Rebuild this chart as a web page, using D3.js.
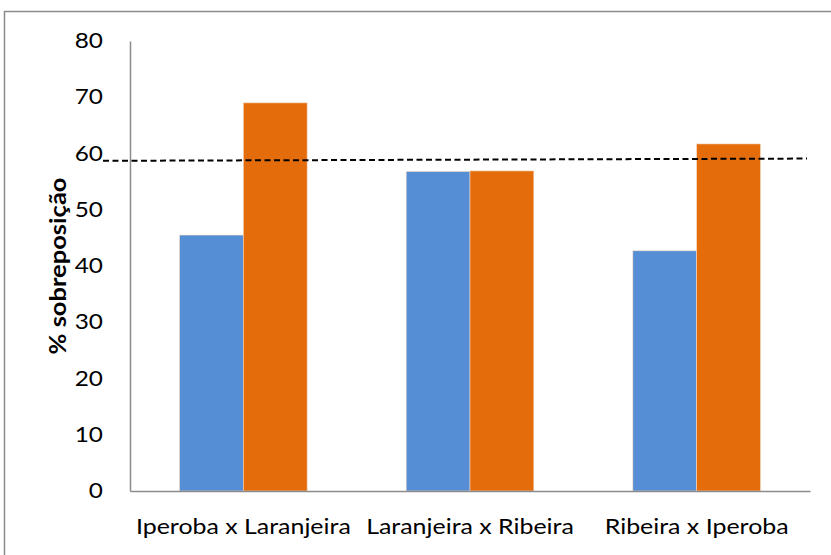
<!DOCTYPE html>
<html>
<head>
<meta charset="utf-8">
<script src="https://cdn.jsdelivr.net/npm/d3@7"></script>
<style>
  html, body { margin: 0; padding: 0; background: #fff; }
  svg { display: block; }
  text { font-family: Lato, "Open Sans", sans-serif; fill: #000; }
</style>
</head>
<body>
<svg id="chart" width="831" height="555"></svg>
<script>
// Pairwise overlap between sites (% sobreposição)
const categories = ["Iperoba x Laranjeira", "Laranjeira x Ribeira", "Ribeira x Iperoba"];
const seriesA = [45.5, 56.8, 42.7];   // blue bars
const seriesB = [69.0, 56.9, 61.7];   // orange bars
const yTicks = [0, 10, 20, 30, 40, 50, 60, 70, 80];
const thresholdLine = [58.7, 59.1];   // dashed reference, left and right end
const yTitle = "% sobreposição";

const svg = d3.select("#chart");
const W = 831, H = 555;
const m = { left: 130, right: 21, top: 41, bottom: 64 };
const stretch = 1.16;   // wide lettering

// Outer chart frame
svg.append("rect")
  .attr("x", 4.5).attr("y", 11.5)
  .attr("width", W + 10).attr("height", H + 10)
  .attr("fill", "none").attr("stroke", "#8c8c8c").attr("stroke-width", 1.5);

const x = d3.scaleBand().domain(categories)
  .range([m.left, W - m.right])
  .paddingInner(0.437).paddingOuter(0.2185);

const x2 = d3.scaleBand().domain(["A", "B"]).range([0, x.bandwidth()]);

const y = d3.scaleLinear().domain([0, 80]).range([H - m.bottom, m.top]);

const colors = { A: "#558ed5", B: "#e46c0a" };

// Bars
const groups = svg.append("g").selectAll("g")
  .data(categories.map((c, i) => ({ c, A: seriesA[i], B: seriesB[i] })))
  .join("g")
  .attr("transform", d => `translate(${x(d.c)},0)`);

groups.selectAll("rect")
  .data(d => ["A", "B"].map(k => ({ k, v: d[k] })))
  .join("rect")
  .attr("x", d => x2(d.k))
  .attr("y", d => y(d.v))
  .attr("width", x2.bandwidth())
  .attr("height", d => y(0) - y(d.v))
  .attr("fill", d => colors[d.k])
  .attr("stroke", "#f3d9c4")
  .attr("stroke-width", 0.6);

// Y axis
const yPad = 27;
const yAxis = d3.axisLeft(y).tickValues(yTicks).tickSize(0).tickPadding(yPad);
const gy = svg.append("g").attr("transform", `translate(${m.left},0)`).call(yAxis);
gy.select(".domain").attr("stroke", "#8c8c8c").attr("stroke-width", 1.5);
gy.selectAll("text")
  .style("font-size", "21px")
  .attr("x", 0)
  .attr("transform", `translate(${-yPad},0) scale(${stretch},1)`);

// X axis
const xAxis = d3.axisBottom(x).tickSize(0).tickPadding(28);
const gx = svg.append("g").attr("transform", `translate(0,${y(0)})`).call(xAxis);
gx.select(".domain").attr("stroke", "#8c8c8c").attr("stroke-width", 1.5);
gx.selectAll("text")
  .style("font-size", "21.5px")
  .attr("transform", `scale(${stretch},1)`);

// Y axis title
svg.append("text")
  .attr("transform", `translate(57,${(y(0) + y(80)) / 2}) rotate(-90) scale(${stretch},1)`)
  .attr("text-anchor", "middle")
  .attr("dominant-baseline", "central")
  .style("font-size", "22px")
  .style("font-weight", "bold")
  .text(yTitle);

// Dashed reference line
const [xa, xb] = x.range();
svg.append("line")
  .attr("x1", xa - 27).attr("y1", y(thresholdLine[0]))
  .attr("x2", xb - 3).attr("y2", y(thresholdLine[1]))
  .attr("stroke", "#000")
  .attr("stroke-width", 2)
  .attr("stroke-dasharray", "6,3.5");
</script>
</body>
</html>
